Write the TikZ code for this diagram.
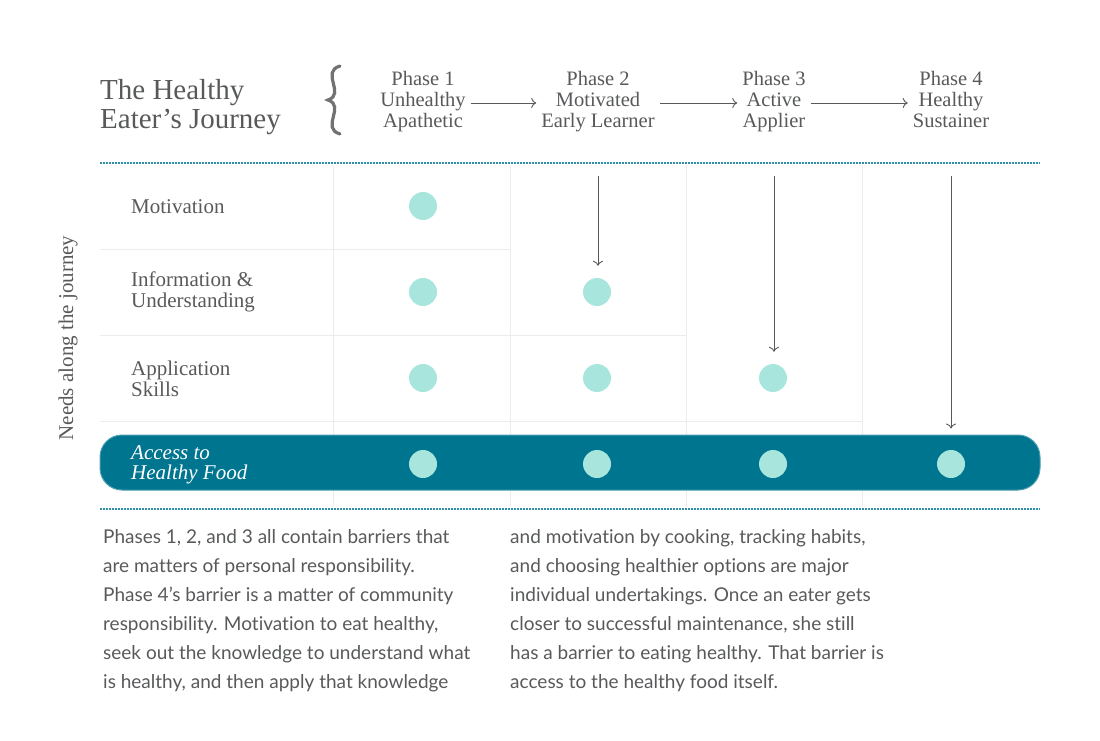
\documentclass[tikz,border=0pt]{standalone}
\usepackage{fontspec}
\setmainfont{Liberation Serif}
\newfontfamily\bodyfont[Ligatures=NoCommon]{Lato}
\usepackage{tikz}
\usetikzlibrary{calc,arrows.meta}
\usepackage{xcolor}
\definecolor{hjgray}{HTML}{58595B}
\definecolor{hjteal}{HTML}{00758F}
\definecolor{hjdot}{HTML}{A8E5DD}
\definecolor{hjline}{HTML}{2B8FA5}
\definecolor{hjgrid}{HTML}{ECECEC}
\tikzset{
  phase/.style={align=center, inner sep=5pt, font=\fontsize{20.5}{21}\selectfont, text=hjgray},
  need/.style={align=left, anchor=west, inner sep=0pt, font=\fontsize{21}{20.5}\selectfont, text=hjgray},
  flow/.style={-{To[length=5pt,width=10pt]}, line width=0.9pt, draw=hjgray},
  dotline/.style={line width=2pt, draw=hjline, dash pattern=on 1.6pt off 1.4pt},
  grid/.style={line width=1pt, draw=hjgrid},
  need dot/.style={circle, fill=hjdot, minimum size=28pt, inner sep=0pt},
  body/.style={align=left, anchor=north west, inner sep=0pt, text=hjgray,
    font=\bodyfont\fontsize{19}{29}\selectfont},
}
\begin{document}
\begin{tikzpicture}[x=1pt, y=-1pt]
  \useasboundingbox (0,0) rectangle (1100,741);
  % Titel und Klammer
  \node[align=left, anchor=west, inner sep=0pt, font=\fontsize{29}{28.5}\selectfont, text=hjgray]
    (title) at (100,107) {The Healthy\\Eater’s Journey};
  \draw[line width=3.2pt, draw=hjgray!85, line cap=round]
    (340,66) .. controls (320,72) and (346,94) .. (328,100)
    .. controls (346,106) and (320,128) .. (340,134);
  % Phasen
  \node[phase] (ph1) at (423,103) {Phase 1\\Unhealthy\\Apathetic\strut};
  \node[phase] (ph2) at (598,103) {Phase 2\\Motivated\\Early Learner\strut};
  \node[phase] (ph3) at (774,103) {Phase 3\\Active\\Applier\strut};
  \node[phase] (ph4) at (951,103) {Phase 4\\Healthy\\Sustainer\strut};
  \draw[flow] (ph1.east) -- (ph2.west);
  \draw[flow] (ph2.east) -- (ph3.west);
  \draw[flow] (ph3.east) -- (ph4.west);
  % Raster
  \foreach \x in {333,510,686,862}
    \draw[grid] (\x,165) -- (\x,507);
  \draw[grid] (100,249) -- (510,249);
  \draw[grid] (100,335) -- (686,335);
  \draw[grid] (100,421) -- (862,421);
  \draw[dotline] (100,163) -- (1040,163);
  \draw[dotline] (100,509) -- (1040,509);
  % Bedürfnisse
  \node[rotate=90, font=\fontsize{21}{20}\selectfont, text=hjgray] (needs) at (68,338) {Needs along the journey};
  \node[need] (mot) at (131,207) {Motivation};
  \node[need] (inf) at (131,292) {Information \&\\Understanding};
  \node[need] (app) at (131,379) {Application\\Skills};
  \node[rounded corners=22pt, fill=hjteal, draw=hjteal!70!white, line width=1pt,
    minimum width=940pt, minimum height=55pt] (bar) at (570,462.5) {};
  \node[need, text=white, font=\itshape\fontsize{21}{20.5}\selectfont] (acc) at (131,465) {Access to\\Healthy Food};
  % Punkte
  \foreach \x/\c in {423/1,597/2,773/3,951/4}
    \node[need dot] (d4\c) at (\x,464) {};
  \node[need dot] (d11) at (423,206) {};
  \node[need dot] (d21) at (423,292) {};
  \node[need dot] (d22) at (597,292) {};
  \node[need dot] (d31) at (423,378) {};
  \node[need dot] (d32) at (597,378) {};
  \node[need dot] (d33) at (773,378) {};
  % Pfeile nach unten
  \coordinate (s2) at (598,176);
  \coordinate (s3) at (774,176);
  \coordinate (s4) at (951,176);
  \draw[flow, shorten >=12pt] (s2) -- (s2 |- d22.north);
  \draw[flow, shorten >=12pt] (s3) -- (s3 |- d33.north);
  \draw[flow, shorten >=6pt] (s4) -- (s4 |- bar.north);
  % Text
  \node[body] (txtl) at (103,529) {Phases 1, 2, and 3 all contain barriers that\\
    are matters of personal responsibility.\\
    Phase 4’s barrier is a matter of community\\
    responsibility. Motivation to eat healthy,\\
    seek out the knowledge to understand what\\
    is healthy, and then apply that knowledge};
  \node[body] (txtr) at (510,529) {and motivation by cooking, tracking habits,\\
    and choosing healthier options are major\\
    individual undertakings. Once an eater gets\\
    closer to successful maintenance, she still\\
    has a barrier to eating healthy. That barrier is\\
    access to the healthy food itself.};
\end{tikzpicture}
\end{document}
